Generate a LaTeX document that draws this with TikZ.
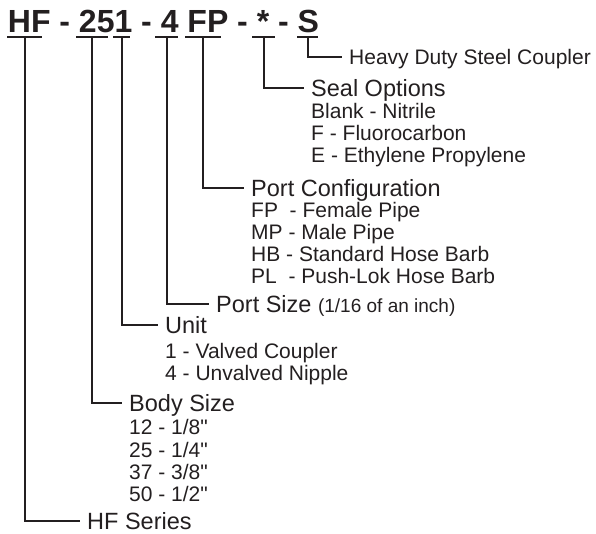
\documentclass[tikz,border=0pt]{standalone}
\usepackage{fontspec}
\setmainfont{Liberation Sans}
\newfontfamily\plainsans{Liberation Sans}
\definecolor{ink}{HTML}{231F20}

\begin{document}
\begin{tikzpicture}[x=1pt,y=-1pt,line join=miter,
  title/.style={font=\plainsans\fontsize{32}{32}\selectfont\bfseries,text=ink,anchor=base west,inner sep=0pt},
  bar/.style={fill=ink,minimum width=#1,minimum height=2pt,inner sep=0pt},
  lead/.style={draw=ink,line width=2pt},
  head/.style={font=\plainsans\fontsize{23.5}{24}\selectfont,text=ink,anchor=west,inner xsep=7pt,inner ysep=0pt,text height=16.8pt,text depth=0pt},
  item/.style={font=\plainsans\fontsize{21}{22}\selectfont,text=ink,anchor=base west,inner sep=0pt}]

\useasboundingbox (0,0) rectangle (596,533);

% Part number
\node[title] (code) at (7.7,32) {HF - 251 - 4 FP - * - S};

% Underlines of the fields
\node[bar=35pt] (bHF) at (24.5,37) {};
\node[bar=32pt] (b25) at (92,37) {};
\node[bar=17pt] (b1) at (121.5,37) {};
\node[bar=23pt] (b4) at (166.5,37) {};
\node[bar=36pt] (bFP) at (203,37) {};
\node[bar=23pt] (bSeal) at (263.5,37) {};
\node[bar=21pt] (bS) at (307.5,37) {};

% Field: S
\node[head,font=\plainsans\fontsize{21}{22}\selectfont,text height=15pt] (lS) at (342,56.5) {Heavy Duty Steel Coupler};

% Field: seal
\node[head] (lSeal) at (304,88) {Seal Options};
\foreach \t [count=\i] in {Blank - Nitrile, F - Fluorocarbon, E - Ethylene Propylene}
  \node[item] (seal\i) at (311,96+22*\i) {\t};

% Field: FP
\node[head] (lFP) at (244,188) {Port Configuration};
\foreach \t [count=\i] in {FP\ \ - Female Pipe, MP - Male Pipe, HB - Standard Hose Barb, PL\ \ - Push-Lok Hose Barb}
  \node[item] (conf\i) at (251,195+22*\i) {\t};

% Field: 4
\node[head] (l4) at (209,304) {Port Size {\fontsize{19}{20}\selectfont(1/16 of an inch)}};

% Field: 1
\node[head] (l1) at (158,325) {Unit};
\foreach \t [count=\i] in {1 - Valved Coupler, 4 - Unvalved Nipple}
  \node[item] (unit\i) at (165,336+22*\i) {\t};

% Field: 25
\node[head] (l25) at (122,403) {Body Size};
\foreach \t [count=\i] in {12 - 1/8", 25 - 1/4", 37 - 3/8", 50 - 1/2"}
  \node[item] (body\i) at (129,412.5+22.3*\i) {\t};

% Field: HF
\node[head] (lHF) at (80,521) {HF Series};

% Leaders
\draw[lead] (bS) |- (lS.west);
\draw[lead] (bSeal) |- (lSeal.west);
\draw[lead] (bFP) |- (lFP.west);
\draw[lead] (b4) |- (l4.west);
\draw[lead] (b1) |- (l1.west);
\draw[lead] (b25) |- (l25.west);
\draw[lead] (bHF) |- (lHF.west);

\end{tikzpicture}
\end{document}
